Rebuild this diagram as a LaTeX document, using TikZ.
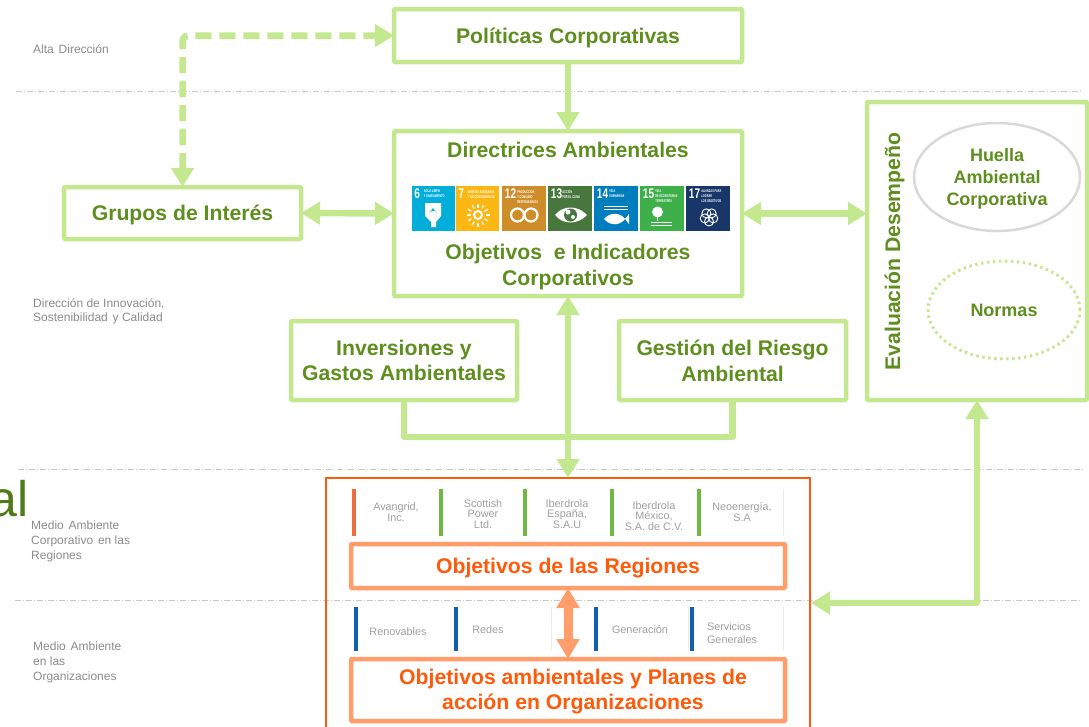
\documentclass[tikz,border=0pt]{standalone}
\usepackage{fontspec}
\setmainfont{Liberation Sans}
\usetikzlibrary{arrows.meta}
\usetikzlibrary{shapes.geometric}
\definecolor{lgreen}{HTML}{C4E890}
\definecolor{dgreen}{HTML}{5E8F1E}
\definecolor{lorange}{HTML}{FF9E6B}
\definecolor{dorange}{HTML}{FF5A0A}
\definecolor{sgray}{HTML}{8C8C8C}
\definecolor{cgray}{HTML}{A0A0A0}
\definecolor{dline}{HTML}{C8C8C8}
\definecolor{barred}{HTML}{EF6C3C}
\definecolor{bargreen}{HTML}{70B844}
\definecolor{barblue}{HTML}{1060B0}
\definecolor{sdgA}{HTML}{00AED9}
\definecolor{sdgB}{HTML}{FDB713}
\definecolor{sdgC}{HTML}{CF8D2A}
\definecolor{sdgD}{HTML}{48773E}
\definecolor{sdgE}{HTML}{007DBC}
\definecolor{sdgF}{HTML}{3EB049}
\definecolor{sdgG}{HTML}{183668}
\tikzset{gbox/.style = {draw = lgreen, line width = 4.5, rounded corners = 1, fill = white, outer sep = 0, inner sep = 0, align = center, text = dgreen, text depth = 0, font = \fontsize{21.2}{25.5}\selectfont\bfseries}}
\tikzset{obox/.style = {gbox, draw = lorange, text = dorange}}
\tikzset{gtext/.style = {inner sep = 0, align = center, text = dgreen, font = \fontsize{21.2}{25.5}\selectfont\bfseries}}
\tikzset{side/.style = {anchor = north west, inner sep = 0, align = left, text = sgray, font = \fontsize{12}{14.6}\selectfont}}
\tikzset{comp/.style = {inner sep = 0, align = center, text = cgray, font = \fontsize{10.8}{10.5}\selectfont}}
\tikzset{gline/.style = {draw = lgreen, line width = 6.5, line join = round}}
\tikzset{garrow/.style = {gline, {Triangle[width = 22, length = 19]}-{Triangle[width = 22, length = 19]}}}
\tikzset{sep/.style = {draw = dline, line width = 1, dash pattern = on 5.5 off 2 on 1.5 off 2}}
\tikzset{tile/.style = {minimum width = 43.5, minimum height = 45, inner sep = 0, outer sep = 0}}
\begin{document}
\begin{tikzpicture}[x = 1pt, y = -1pt]
      \useasboundingbox (0, 0) rectangle (1089, 726);
      \fill [white] (0, 0) rectangle (1089, 726);
      \draw [sep] (16, 91) -- (1082, 91);
      \draw [sep] (18, 469) -- (1084, 469);
      \draw [sep] (15, 600) -- (1081, 600);

      \node [side] (alta) at (33, 44) {Alta \hspace{1.5pt}Dirección};
      \node [side] (innov) at (33, 298) {Dirección de Innovación,\\Sostenibilidad \hspace{1.5pt}y Calidad};
      \node [side] (corp) at (31, 521) {Medio \hspace{1.5pt}Ambiente\\Corporativo \hspace{1.5pt}en las\\Regiones};
      \node [side] (orga) at (33, 642) {Medio \hspace{1.5pt}Ambiente\\en las\\Organizaciones};
      \node [anchor = base east, inner sep = 0, text = dgreen!85!black, font = \fontsize{50}{50}\selectfont] (cut) at (28.5, 516) {al};

      \node [gbox, minimum width = 348, minimum height = 53] (polit) at (568, 35.5) {Políticas Corporativas};
      \node [gbox, minimum width = 348, minimum height = 165] (direc) at (568, 213.5) {};
      \node [gbox, minimum width = 237, minimum height = 52] (grupos) at (182.5, 213) {Grupos de Interés};
      \node [gbox, minimum width = 226, minimum height = 79] (inver) at (404, 360.5) {Inversiones y\\Gastos Ambientales};
      \node [gbox, minimum width = 227, minimum height = 79] (gest) at (732.5, 360.5) {Gestión del Riesgo\\Ambiental};
      \node [gbox, minimum width = 220, minimum height = 298] (evalu) at (977, 251) {};
      \node [gtext] (dirtit) at (568, 150) {Directrices Ambientales};
      \node [gtext] (objind) at (568, 267) {Objetivos\ \ e Indicadores\\Corporativos};
      \node [gtext, rotate = 90] (evtxt) at (894.5, 251.5) {Evaluación Desempeño};
      \node [ellipse, draw = black!15, line width = 2.5, minimum width = 166, minimum height = 108, inner sep = 0, align = center, text = dgreen, text depth = 0, font = \fontsize{18}{22}\selectfont\bfseries] (huella) at (997, 177) {Huella\\Ambiental\\Corporativa};
      \node [ellipse, draw = lgreen, line width = 3, dash pattern = on 2.5 off 3.5, minimum width = 152, minimum height = 98, inner sep = 0, text = dgreen, font = \fontsize{18}{22}\selectfont\bfseries] (normas) at (1004, 310) {Normas};

      \foreach \tx/\col/\num/\off/\lab in {433.5/sdgA/6/12/AGUA LIMPIA\\Y SANEAMIENTO, 477.5/sdgB/7/12/ENERGÍA ASEQUIBLE\\Y NO CONTAMINANTE, 524/sdgC/12/15/PRODUCCIÓN\\Y CONSUMO\\RESPONSABLES, 570/sdgD/13/14/ACCIÓN\\POR EL CLIMA, 616/sdgE/14/15/VIDA\\SUBMARINA, 662/sdgF/15/15/VIDA\\DE ECOSISTEMAS\\TERRESTRES, 708/sdgG/17/15/ALIANZAS PARA\\LOGRAR\\LOS OBJETIVOS}
      {
        \node [tile, fill = \col] (tile\num) at (\tx, 208.5) {};
        \node [anchor = north west, inner sep = 0, xscale = 0.72, text = white, font = \fontsize{14}{14}\selectfont\bfseries] (num\num) at ([shift = {(2.5, 3)}] tile\num.north west) {\num};
        \node [anchor = north west, inner sep = 0, xscale = 0.62, align = left, text = white, font = \fontsize{4}{5}\selectfont\bfseries] (lab\num) at ([shift = {(\off, 3.5)}] tile\num.north west) {\lab};
      }
      \fill [white] (425, 203) -- (441, 203) -- (441, 216) -- (436, 222) -- (436, 227) -- (431, 227) -- (431, 222) -- (425, 216) -- cycle;
      \fill [sdgA] (433, 208) -- (436.5, 213) arc (-20 : -160 : 3.7) -- cycle;
      \draw [white, line width = 2] (478, 215) circle (4);
      \foreach \a in {0, 30, ..., 330}
        \draw [white, line width = 1.2] (478, 215) ++(\a : 7.5) -- ++(\a : 4);
      \draw [white, line width = 2.2] (517.5, 215) circle (6.5) (531, 215) circle (6.5);
      \fill [white] (555, 215) .. controls (563, 205) and (578, 205) .. (587, 215) .. controls (578, 225) and (563, 225) .. (555, 215) -- cycle;
      \fill [sdgD] (570.5, 215) circle (6.5);
      \fill [white] (568, 212) circle (2.5) (573, 217) circle (2);
      \draw [white, line width = 1] (604, 206) -- (628, 206) (604, 209.5) -- (628, 209.5);
      \fill [white] (604, 219) .. controls (610, 212) and (620, 212) .. (625, 219) .. controls (620, 226) and (610, 226) .. (604, 219) -- cycle;
      \fill [white] (625, 219) -- (629, 214) -- (629, 224) -- cycle;
      \fill [white] (657.5, 212) circle (5.5);
      \draw [white, line width = 1.5] (657.5, 212) -- (657.5, 221);
      \draw [white, line width = 1] (651, 222) -- (672, 222) (651, 225) -- (672, 225);
      \foreach \a in {18, 90, 162, 234, 306}
        \draw [white, line width = 0.9] (709, 217) ++(\a : 4.5) circle (4.5);

      \node [draw = dorange, line width = 1.5, outer sep = 0, minimum width = 484, minimum height = 300] (regbox) at (568, 628) {};
      \node [obox, minimum width = 434, minimum height = 44] (regobj) at (568, 566) {Objetivos de las Regiones};
      \node [obox, minimum width = 434, minimum height = 62] (orgobj) at (568, 690) {};
      \node [gtext, text = dorange, text depth = 2] (orgtxt) at (573, 690.5) {Objetivos ambientales y Planes de\\acción en Organizaciones};

      \foreach \bx/\col in {354/barred, 440.5/bargreen, 525/bargreen, 611.5/bargreen, 699/bargreen}
        \fill [\col] (\bx - 2, 489) rectangle (\bx + 2, 536);
      \foreach \bx in {356, 456, 596, 692}
        \fill [barblue] (\bx - 2, 607) rectangle (\bx + 2, 651);
      \draw [black!8, line width = 1] (783, 489) -- (783, 536) (551, 607) -- (551, 651) (688, 607) -- (688, 651) (783, 607) -- (783, 651);
      \node [comp] (avan) at (396, 512) {Avangrid,\\Inc.};
      \node [comp] (scot) at (483, 514) {Scottish\\Power\\Ltd.};
      \node [comp] (iesp) at (567, 514) {Iberdrola\\España,\\S.A.U};
      \node [comp] (imex) at (654, 516) {Iberdrola\\México,\\S.A. de C.V.};
      \node [comp] (neoe) at (742, 512) {Neoenergía,\\S.A};
      \node [comp] (reno) at (398, 632) {Renovables};
      \node [comp] (rede) at (488, 630) {Redes};
      \node [comp] (gene) at (640, 630) {Generación};
      \node [comp, align = left, font = \fontsize{10.8}{13}\selectfont] (serv) at (732, 633) {Servicios\\Generales};

      \coordinate (evin) at (811, 603);
      \draw [garrow, dash pattern = on 16 off 8, rounded corners = 6] (grupos.north) |- (polit.west);
      \draw [gline, -{Triangle[width = 22, length = 19]}] (polit.south) -- (direc.north);
      \draw [garrow] (grupos.east) -- (direc.west);
      \draw [garrow] (direc.east) -- (direc.east -| evalu.west);
      \draw [gline] (inver.south) -- ++(0, 37) -| (gest.south);
      \draw [garrow] (direc.south) -- (regbox.north);
      \draw [garrow] (evalu.south) |- (evin);
      \draw [line width = 9, draw = lorange, {Triangle[width = 22, length = 20]}-{Triangle[width = 22, length = 20]}] (regobj.south) -- (orgobj.north);
    \end{tikzpicture}
\end{document}
